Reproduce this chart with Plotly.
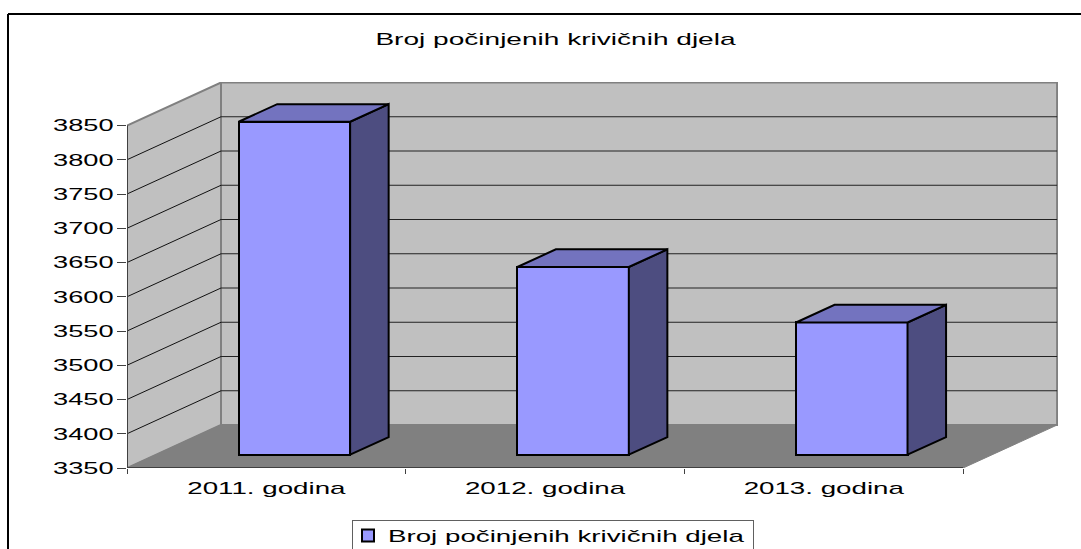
import plotly.graph_objects as go

title_text = "Broj počinjenih krivičnih djela"
categories = ["2011. godina", "2012. godina", "2013. godina"]
values = [3836, 3624, 3543]
y_ticks = [3350, 3400, 3450, 3500, 3550, 3600, 3650, 3700, 3750, 3800, 3850]

# plot rectangle in page pixels
L, R, T, B = 127, 1058, 82, 468
PX_PER_CAT = 278.7
PX_PER_VAL = 342.5 / 500
YMIN, YMAX = y_ticks[0], y_ticks[-1]
N = len(categories)
DX = 94 / PX_PER_CAT      # oblique depth shift, in category units
DY = 43 / PX_PER_VAL      # oblique depth shift, in value units
BAR_D0, BAR_D = 0.31, 0.41
BAR_W = 0.400
BAR_C = 0.496             # bar centre inside its category slot


def P(x, y, d=0.0):
    return x + d * DX, y + d * DY


def path(points):
    pts = [P(*p) for p in points]
    return "M" + "L".join(f"{x},{y}" for x, y in pts) + "Z"


def seg(p, q, color, width):
    (x0, y0), (x1, y1) = P(*p), P(*q)
    return dict(type="line", xref="x", yref="y", x0=x0, y0=y0, x1=x1, y1=y1,
                layer="below", line=dict(color=color, width=width))


WALL, FLOOR, EDGE = "#C0C0C0", "#808080", "#808080"
shapes = [
    dict(type="path", xref="x", yref="y", layer="below", fillcolor=WALL, line=dict(color=EDGE, width=2),
         path=path([(0, YMIN, 1), (N, YMIN, 1), (N, YMAX, 1), (0, YMAX, 1)])),
    dict(type="path", xref="x", yref="y", layer="below", fillcolor=WALL, line=dict(color=EDGE, width=2),
         path=path([(0, YMIN, 0), (0, YMIN, 1), (0, YMAX, 1), (0, YMAX, 0)])),
    dict(type="path", xref="x", yref="y", layer="below", fillcolor=FLOOR, line=dict(color=EDGE, width=1),
         path=path([(0, YMIN, 0), (N, YMIN, 0), (N, YMIN, 1), (0, YMIN, 1)])),
]
for t in y_ticks[1:-1]:
    shapes.append(seg((0, t, 0), (0, t, 1), "#111111", 1))
    shapes.append(seg((0, t, 1), (N, t, 1), "#222222", 1))
shapes.append(seg((0, YMIN, 0), (N, YMIN, 0), "#404040", 2))
shapes.append(seg((0, YMIN, 0), (0, YMAX, 0), "#404040", 2))

# outer chart frame (top and left edges only reach the picture)
W, H = 1081, 549
fx = lambda px: (px - L) / (R - L)
fy = lambda py: (B - py) / (B - T)
for x0, y0, x1, y1 in [(8, 14, 1081, 14), (8, 14, 8, 549)]:
    shapes.append(dict(type="line", xref="paper", yref="paper", layer="below",
                       x0=fx(x0), y0=fy(y0), x1=fx(x1), y1=fy(y1),
                       line=dict(color="#000000", width=2)))

fig = go.Figure()
centers = [i + BAR_C + BAR_D0 * DX for i in range(N)]
fig.add_bar(
    x=centers,
    y=[v - YMIN for v in values],
    base=[YMIN + BAR_D0 * DY] * N,
    width=BAR_W,
    name=title_text,
    marker=dict(color="#9999FF", line=dict(color="#000000", width=2)),
    hoverinfo="skip",
    showlegend=True,
)

side_x, side_y, top_x, top_y = [], [], [], []
for i, v in enumerate(values):
    a = i + BAR_C - BAR_W / 2
    b = i + BAR_C + BAR_W / 2
    d0, d1 = BAR_D0, BAR_D0 + BAR_D
    for p in [(b, YMIN, d0), (b, YMIN, d1), (b, v, d1), (b, v, d0), (b, YMIN, d0)]:
        x, y = P(*p)
        side_x.append(x); side_y.append(y)
    side_x.append(None); side_y.append(None)
    for p in [(a, v, d0), (a, v, d1), (b, v, d1), (b, v, d0), (a, v, d0)]:
        x, y = P(*p)
        top_x.append(x); top_y.append(y)
    top_x.append(None); top_y.append(None)

for xs, ys, col in [(side_x, side_y, "#4D4D80"), (top_x, top_y, "#7373BF")]:
    fig.add_scatter(x=xs, y=ys, mode="lines", fill="toself", fillcolor=col,
                    line=dict(color="#000000", width=2), hoverinfo="skip",
                    showlegend=False, cliponaxis=False)

FONT = dict(family="Liberation Sans", size=17, color="#000000")
fig.update_layout(
    width=W, height=H,
    margin=dict(l=L, r=W - R, t=T, b=H - B, autoexpand=False),
    paper_bgcolor="#FFFFFF", plot_bgcolor="#FFFFFF",
    font=FONT,
    title=dict(text=title_text, font=FONT, x=(555.5) / W, xref="container", xanchor="center",
               y=1 - 39 / H, yref="container", yanchor="middle"),
    shapes=shapes,
    bargap=0,
    legend=dict(x=fx(352), y=fy(520), xanchor="left", yanchor="top", orientation="h",
                bgcolor="#FFFFFF", bordercolor="#606060", borderwidth=1,
                font=FONT, entrywidth=355, entrywidthmode="pixels"),
    xaxis=dict(range=[0, (R - L) / PX_PER_CAT], showgrid=False, zeroline=False, showline=False,
               tickmode="array", tickvals=[i + 0.5 for i in range(N)], ticktext=categories,
               ticks="", ticklabelstandoff=8, tickfont=FONT,
               minor=dict(tickmode="array", tickvals=list(range(N + 1)), ticks="outside",
                          ticklen=5, tickwidth=1, tickcolor="#404040", showgrid=False)),
    yaxis=dict(range=[YMIN, YMIN + (B - T) / PX_PER_VAL], showgrid=False, zeroline=False, showline=False,
               tickmode="array", tickvals=y_ticks, ticktext=[str(t) for t in y_ticks],
               ticks="outside", ticklen=9, tickwidth=1, tickcolor="#404040", tickfont=FONT),
)

# the reference's lettering is a horizontally stretched Arial
post = """
document.body.style.margin='0';
document.documentElement.style.overflow='hidden';
function stretch(sel, k){
  document.querySelectorAll(sel).forEach(function(t){
    t.setAttribute('textLength', t.getComputedTextLength()*k);
    t.setAttribute('lengthAdjust','spacingAndGlyphs');
  });
}
stretch('.gtitle', 1.65);
stretch('.xtick text', 1.63);
stretch('.ytick text', 1.6);
stretch('.legendtext', 1.63);
document.querySelectorAll('.legend .traces').forEach(function(g){
  g.setAttribute('transform', 'translate(-5,-3) ' + (g.getAttribute('transform') || ''));
});
"""
fig.write_html("out.html", post_script=post, config=dict(displayModeBar=False))
